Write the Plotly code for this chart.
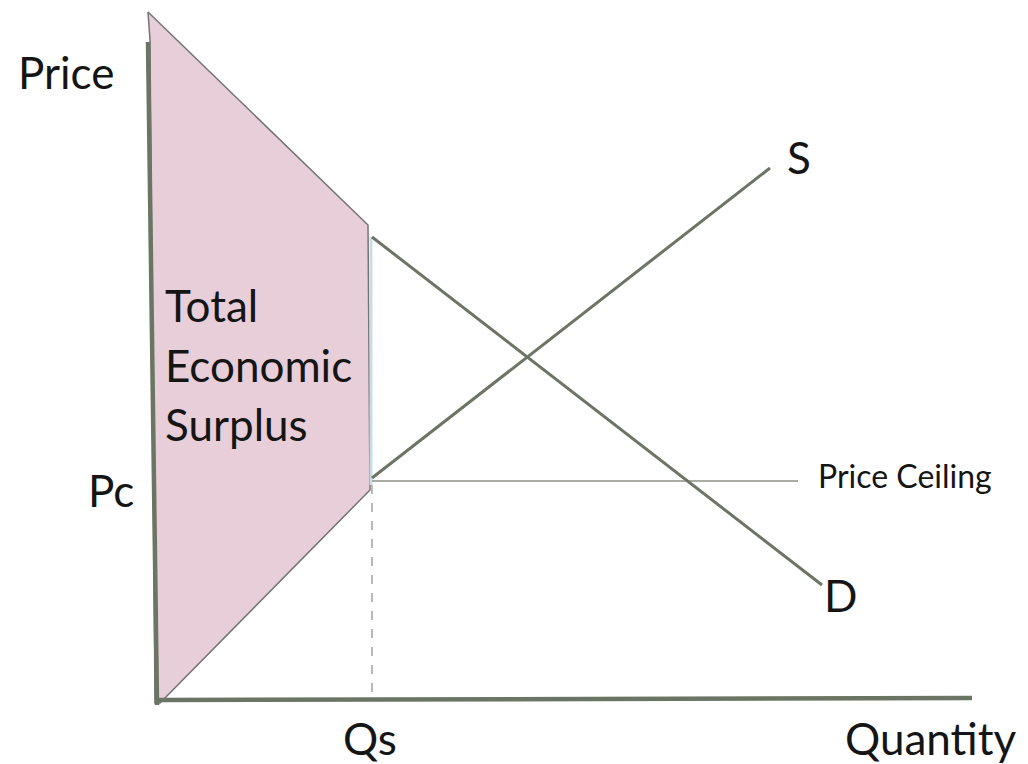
import plotly.graph_objects as go

# Coordinates: quantity (x) and price (y) in diagram units; origin at the axes corner
Pc = 219          # price ceiling level
Qs = 215          # quantity supplied at the ceiling

# Shaded total economic surplus polygon
surplus_x = [-9, 211, 213, 3, -2, -7, -9]
surplus_y = [688, 475, 210, -3, -3, 660, 688]

# Demand and supply curves (visible segments)
demand_x = [Qs, 665]
demand_y = [463, 115]
supply_x = [Qs, 613]
supply_y = [Pc + 3, 532]

# Axes
yaxis_line_x = [-9, 0]
yaxis_line_y = [658, -5]
xaxis_line_x = [0, 815]
xaxis_line_y = [0, 2]

# Price ceiling
ceiling_x = [Qs, 641]
ceiling_y = [Pc, Pc]

AX = "#6b7563"
LINE = "#6d7466"
TXT = "#151515"
FONT = "Lato"

fig = go.Figure()
fig.add_trace(go.Scatter(x=surplus_x, y=surplus_y, fill="toself", fillcolor="#e7ced9",
                         mode="lines", line=dict(color="#747474", width=1.5), hoverinfo="skip"))
fig.add_trace(go.Scatter(x=[Qs - 1, Qs - 1], y=[demand_y[0], Pc - 4], mode="lines",
                         line=dict(color="#c9dce8", width=3), hoverinfo="skip"))
fig.add_trace(go.Scatter(x=[Qs, Qs], y=[Pc - 4, 0], mode="lines",
                         line=dict(color="#8a8a88", width=1.2, dash="dash"), hoverinfo="skip"))
fig.add_trace(go.Scatter(x=ceiling_x, y=ceiling_y, mode="lines",
                         line=dict(color="#8c9284", width=1.6), hoverinfo="skip"))
fig.add_trace(go.Scatter(x=demand_x, y=demand_y, mode="lines",
                         line=dict(color=LINE, width=3), hoverinfo="skip"))
fig.add_trace(go.Scatter(x=supply_x, y=supply_y, mode="lines",
                         line=dict(color=LINE, width=3), hoverinfo="skip"))
fig.add_trace(go.Scatter(x=yaxis_line_x, y=yaxis_line_y, mode="lines",
                         line=dict(color=AX, width=4.5), hoverinfo="skip"))
fig.add_trace(go.Scatter(x=xaxis_line_x, y=xaxis_line_y, mode="lines",
                         line=dict(color=AX, width=4.5), hoverinfo="skip"))

def label(text, x, y, size, xanchor="center"):
    fig.add_annotation(x=x, y=y, text=text, showarrow=False, xanchor=xanchor, yanchor="middle",
                       font=dict(family=FONT, size=size, color=TXT))

BIG = 44
label("Price", -91, 628, BIG)
label("Pc", -46, 210, BIG)
label("Total", 6, 395, BIG, "left")
label("Economic", 6, 335, BIG, "left")
label("Surplus", 6, 276, BIG, "left")
label("S", 642, 543, BIG)
label("D", 683, 105, BIG)
label("Qs", Qs - 2, -38, BIG)
label("Quantity", 773, -38, BIG)
label("Price Ceiling", 748, 225, 32)

fig.update_layout(
    width=1020, height=756, margin=dict(l=0, r=0, t=0, b=0),
    plot_bgcolor="white", paper_bgcolor="white", showlegend=False,
    xaxis=dict(range=[-149, 871], visible=False, fixedrange=True),
    yaxis=dict(range=[-64, 692], visible=False, fixedrange=True),
)
fig.write_html("out.html")
